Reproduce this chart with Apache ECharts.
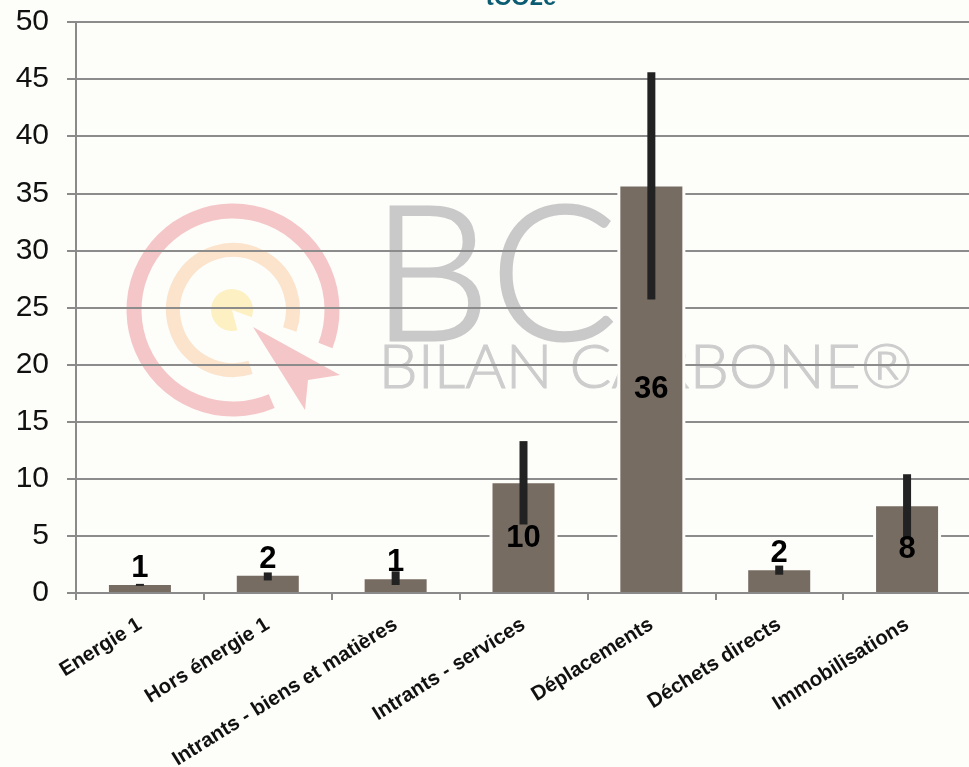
<!DOCTYPE html>
<html>
<head>
<meta charset="utf-8">
<script src="https://cdn.jsdelivr.net/npm/echarts@6/dist/echarts.min.js"></script>
<style>
html,body{margin:0;padding:0;background:#FDFDF9;}
#chart{width:969px;height:767px;}
</style>
</head>
<body>
<div id="chart"></div>
<script>
const categories = ['Energie 1', 'Hors énergie 1', 'Intrants - biens et matières', 'Intrants - services', 'Déplacements', 'Déchets directs', 'Immobilisations'];
const values = [0.7, 1.5, 1.2, 9.6, 35.6, 2.0, 7.6];
const errLow = [0.7, 1.1, 0.7, 6.0, 25.7, 1.6, 4.7];
const errHigh = [0.8, 1.8, 1.9, 13.3, 45.6, 2.4, 10.4];
const yTicks = [0, 5, 10, 15, 20, 25, 30, 35, 40, 45, 50];
const titleText = 'tCO2e';

const chart = echarts.init(document.getElementById('chart'), null, {renderer: 'canvas'});

const labelData = values.map(function (v) {
  return {
    value: v,
    label: v > 5 ? {position: 'inside'} : {position: 'top', distance: 1}
  };
});

const DEG = Math.PI / 180;
const BG = '#FDFDF9';

const option = {
  backgroundColor: BG,
  animation: false,
  title: {
    text: titleText,
    left: 516,
    textAlign: 'center',
    top: -19,
    textStyle: {color: '#0B5C72', fontSize: 24, fontWeight: 'bold', fontFamily: 'Liberation Sans, Arial'}
  },
  grid: {left: 76, right: -2, top: 22, bottom: 174, containLabel: false, outerBoundsMode: 'none'},
  graphic: {
    elements: [
      {type: 'arc', z: -10, shape: {cx: 233, cy: 310, r: 99, startAngle: 67 * DEG, endAngle: 381 * DEG, clockwise: true}, style: {fill: 'none', stroke: '#F5C6C8', lineWidth: 15}},
      {type: 'arc', z: -10, shape: {cx: 233, cy: 310, r: 60, startAngle: 73 * DEG, endAngle: 379 * DEG, clockwise: true}, style: {fill: 'none', stroke: '#FBE3CC', lineWidth: 14}},
      {type: 'sector', z: -10, shape: {cx: 232, cy: 310, r: 21, r0: 0, startAngle: 75 * DEG, endAngle: 380 * DEG, clockwise: true}, style: {fill: '#FDF1C4'}},
      {type: 'polygon', z: -9, shape: {points: [[253, 327], [340, 375], [308, 380], [305, 410]]}, style: {fill: '#F5C6C8'}},
      {type: 'text', z: -10, left: 370, top: 184, style: {text: 'BC', fill: '#C9C9C9', stroke: '#C9C9C9', lineWidth: 3, font: '300 188px Lato, "Liberation Sans", Arial'}},
      {type: 'text', z: -10, left: 378, top: 336, style: {text: 'BILAN CARBONE®', fill: '#CDCDCD', stroke: '#CDCDCD', lineWidth: 1, font: '300 62px Lato, "Liberation Sans", Arial'}}
    ]
  },
  xAxis: {
    type: 'category',
    data: categories,
    boundaryGap: true,
    z: 5,
    axisLine: {lineStyle: {color: '#8A8A8A', width: 2}},
    axisTick: {show: true, length: 7, lineStyle: {color: '#8A8A8A', width: 2}},
    axisLabel: {
      interval: 0,
      rotate: 32,
      margin: 30,
      color: '#111',
      fontSize: 20.5,
      fontWeight: 'bold',
      fontFamily: 'Liberation Sans, Arial'
    },
    splitLine: {show: false}
  },
  yAxis: {
    type: 'value',
    min: 0,
    max: 50,
    interval: 5,
    axisLine: {show: true, lineStyle: {color: '#8A8A8A', width: 2}},
    axisTick: {show: true, length: 9, lineStyle: {color: '#8A8A8A', width: 2}},
    axisLabel: {
      margin: 27,
      color: '#111',
      fontSize: 30,
      fontFamily: 'Liberation Sans, Arial',
      formatter: function (v) { return yTicks.indexOf(v) >= 0 ? String(v) : ''; }
    },
    splitLine: {show: true, lineStyle: {color: '#8C8C8C', width: 2}}
  },
  series: [
    {
      type: 'custom',
      z: 1,
      silent: true,
      data: values.map(function (v, i) { return [i, v]; }),
      encode: {x: 0, y: 1},
      renderItem: function (params, api) {
        const top = api.coord([api.value(0), api.value(1)]);
        const base = api.coord([api.value(0), 0]);
        const w = 68;
        return {
          type: 'rect',
          shape: {x: top[0] - w / 2, y: top[1] - 1, width: w, height: base[1] - top[1] + 1},
          style: {fill: BG}
        };
      }
    },
    {
      type: 'bar',
      data: values,
      barWidth: 62,
      itemStyle: {color: '#776C62'},
      z: 2
    },
    {
      type: 'custom',
      z: 3,
      data: categories.map(function (c, i) { return [i, errLow[i], errHigh[i]]; }),
      encode: {x: 0, y: [1, 2]},
      renderItem: function (params, api) {
        const lo = api.coord([api.value(0), api.value(1)]);
        const hi = api.coord([api.value(0), api.value(2)]);
        const w = 8;
        return {
          type: 'rect',
          shape: {x: lo[0] - w / 2, y: hi[1], width: w, height: Math.max(2, lo[1] - hi[1])},
          style: {fill: '#222222'}
        };
      }
    },
    {
      type: 'bar',
      data: labelData,
      barWidth: 62,
      barGap: '-100%',
      itemStyle: {color: 'rgba(0,0,0,0)'},
      silent: true,
      z: 6,
      label: {
        show: true,
        color: '#000',
        fontSize: 31,
        fontWeight: 'bold',
        fontFamily: 'Liberation Sans, Arial',
        formatter: function (p) { return String(Math.round(p.value)); }
      }
    }
  ]
};
chart.setOption(option);
</script>
</body>
</html>
